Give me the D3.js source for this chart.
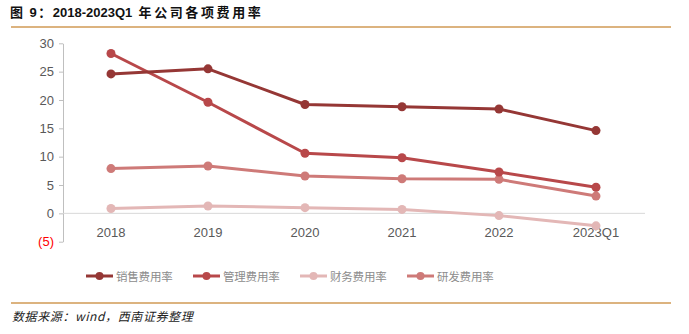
<!DOCTYPE html>
<html><head><meta charset="utf-8">
<script src="https://cdn.jsdelivr.net/npm/d3@7"></script>
<style>body{margin:0;background:#fff}svg{display:block}</style>
</head><body>
<svg id="c" width="689" height="334"></svg>
<script>
const categories = ["2018","2019","2020","2021","2022","2023Q1"];
const seriesNames = ["销售费用率","管理费用率","财务费用率","研发费用率"];
const sales = [24.6, 25.5, 19.2, 18.8, 18.4, 14.6];
const admin = [28.2, 19.6, 10.6, 9.8, 7.3, 4.6];
const finance = [0.85, 1.3, 1.0, 0.7, -0.4, -2.2];
const rnd = [7.9, 8.35, 6.6, 6.1, 6.0, 3.05];
const yTicks = [-5, 0, 5, 10, 15, 20, 25, 30];
const colors = ["#953735", "#B8484A", "#E3B7B6", "#CE7A78"];
const series = [sales, admin, finance, rnd];

const svg = d3.select("#c");
const font = "'Liberation Sans', 'Noto Sans CJK SC', sans-serif";
const cjk = "'Noto Sans CJK SC', sans-serif";

// title
const t = svg.append("text").attr("x", 10).attr("y", 17)
  .attr("font-family", "'Liberation Sans', 'Noto Sans CJK SC', sans-serif").attr("font-weight", "bold")
  .attr("font-size", 13).attr("fill", "#111");
t.append("tspan").attr("letter-spacing", 1.5).text("图 9：");
t.append("tspan").text("2018-2023Q1");
t.append("tspan").attr("letter-spacing", 2.6).text(" 年公司各项费用率");
svg.append("line").attr("x1", 11).attr("x2", 671).attr("y1", 27).attr("y2", 27)
  .attr("stroke", "#D09A55").attr("stroke-width", 1.5);
svg.append("line").attr("x1", 11).attr("x2", 671).attr("y1", 303).attr("y2", 303)
  .attr("stroke", "#D09A55").attr("stroke-width", 1.5);
svg.append("text").attr("x", 12).attr("y", 321)
  .attr("font-family", cjk).attr("font-style", "italic")
  .attr("font-size", 12).attr("letter-spacing", 0.6).attr("fill", "#222")
  .text("数据来源：wind，西南证券整理");

const x = d3.scaleBand().domain(categories).range([62.5, 644.5]);
const y = d3.scaleLinear().domain([-5, 30]).range([241.7, 43.3]);
const cx = d => x(d) + x.bandwidth() / 2;

// y axis
const yAxis = svg.append("g").attr("transform", "translate(63,0)")
  .call(d3.axisLeft(y).tickValues(yTicks).tickSize(4).tickSizeOuter(0)
    .tickFormat(d => d < 0 ? "(" + Math.abs(d) + ")" : d));
yAxis.select(".domain").attr("stroke", "#BFBFBF");
yAxis.selectAll(".tick line").attr("stroke", "#BFBFBF");
yAxis.selectAll(".tick text").attr("font-family", font).attr("font-size", 13)
  .attr("fill", d => d < 0 ? "#FF0000" : "#595959").attr("x", -9);

// zero line
svg.append("line").attr("x1", 63).attr("x2", 645).attr("y1", y(0)).attr("y2", y(0))
  .attr("stroke", "#D9D9D9").attr("stroke-width", 1);

// x labels
svg.append("g").selectAll("text").data(categories).join("text")
  .attr("x", d => cx(d)).attr("y", 237).attr("text-anchor", "middle")
  .attr("font-family", font).attr("font-size", 13).attr("fill", "#595959")
  .text(d => d);

const line = d3.line().x((d, i) => cx(categories[i])).y(d => y(d));
// draw order: finance, rnd, admin, sales
[2, 3, 1, 0].forEach(k => {
  const g = svg.append("g");
  g.append("path").attr("d", line(series[k])).attr("fill", "none")
    .attr("stroke", colors[k]).attr("stroke-width", 3).attr("stroke-linejoin", "round");
  g.selectAll("circle").data(series[k]).join("circle")
    .attr("cx", (d, i) => cx(categories[i])).attr("cy", d => y(d)).attr("r", 4.5)
    .attr("fill", colors[k]);
});

// legend
const legX = [86, 193, 300, 407];
seriesNames.forEach((n, k) => {
  const g = svg.append("g").attr("transform", `translate(${legX[k]},276)`);
  g.append("line").attr("x1", 0).attr("x2", 27).attr("stroke", colors[k]).attr("stroke-width", 3);
  g.append("circle").attr("cx", 13.5).attr("r", 4).attr("fill", colors[k]);
  g.append("text").attr("x", 30).attr("y", 4.5).attr("font-family", cjk)
    .attr("font-size", 11.5).attr("letter-spacing", -0.2).attr("fill", "#8C8C8C").text(n);
});
</script>
</body></html>
